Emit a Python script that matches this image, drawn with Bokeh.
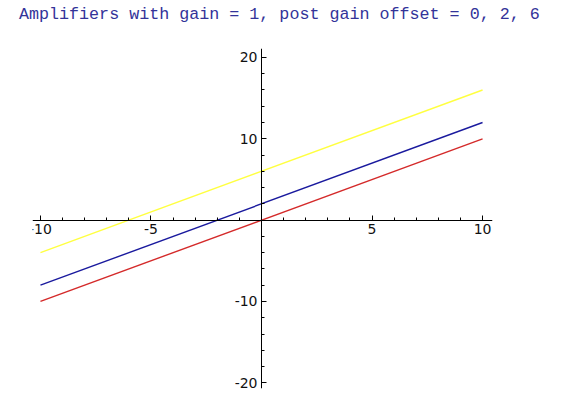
from bokeh.plotting import figure
from bokeh.models import LinearAxis, Range1d, FixedTicker, Div
from bokeh.layouts import column
from bokeh.embed import file_html
from bokeh.resources import INLINE

title_text = "Amplifiers with gain = 1, post gain offset = 0, 2, 6"
gain = 1
offsets = [0, 2, 6]
colors = ["#d42a2a", "#1a1a9e", "#ffff40"]
x_vals = [-10, 10]
x_major = [-10, -5, 5, 10]
x_minor = list(range(-10, 11))
y_major = [-20, -10, 10, 20]
y_minor = list(range(-20, 21, 2))

W = 557
TITLE_H = 40
title = Div(text=title_text, width=W, height=TITLE_H, margin=0,
            styles={"font-family": "'Liberation Mono', monospace", "font-size": "16.7px",
                    "color": "#333399", "line-height": "19px", "padding-left": "19px",
                    "padding-top": "5px", "white-space": "nowrap", "box-sizing": "border-box"})

p = figure(width=W, height=356, output_backend="svg", toolbar_location=None, title=None,
           x_range=Range1d(-10.36, 10.45), y_range=Range1d(-20.7, 21.1),
           x_axis_location=None, y_axis_location=None,
           min_border_left=32, min_border_right=65, min_border_top=8, min_border_bottom=8)
p.grid.visible = False
p.outline_line_color = None
p.background_fill_color = "white"

for off, c in zip(offsets, colors):
    p.line(x_vals, [gain * x + off for x in x_vals], line_color=c, line_width=1.4)

xaxis = LinearAxis(fixed_location=0, ticker=FixedTicker(ticks=x_major, minor_ticks=x_minor))
xaxis.major_tick_in = 5
xaxis.major_tick_out = 0
xaxis.minor_tick_in = 3
xaxis.minor_tick_out = 0
xaxis.major_label_text_font = "DejaVu Sans"
xaxis.major_label_text_font_size = "14px"
xaxis.major_label_text_color = "#111111"
xaxis.major_label_standoff = 4
xaxis.major_label_overrides = {t: str(t) for t in x_major}
xaxis.axis_line_color = "black"
p.add_layout(xaxis, "below")

yaxis = LinearAxis(fixed_location=0, ticker=FixedTicker(ticks=y_major, minor_ticks=y_minor))
yaxis.major_tick_in = 5
yaxis.major_tick_out = 0
yaxis.minor_tick_in = 3
yaxis.minor_tick_out = 0
yaxis.major_label_text_font = "DejaVu Sans"
yaxis.major_label_text_font_size = "14px"
yaxis.major_label_text_color = "#111111"
yaxis.major_label_standoff = 4
yaxis.major_label_orientation = "horizontal"
yaxis.major_label_overrides = {t: str(t) for t in y_major}
yaxis.axis_line_color = "black"
p.add_layout(yaxis, "left")

layout = column(title, p, spacing=0)
open("out.html", "w").write(file_html(layout, INLINE))
